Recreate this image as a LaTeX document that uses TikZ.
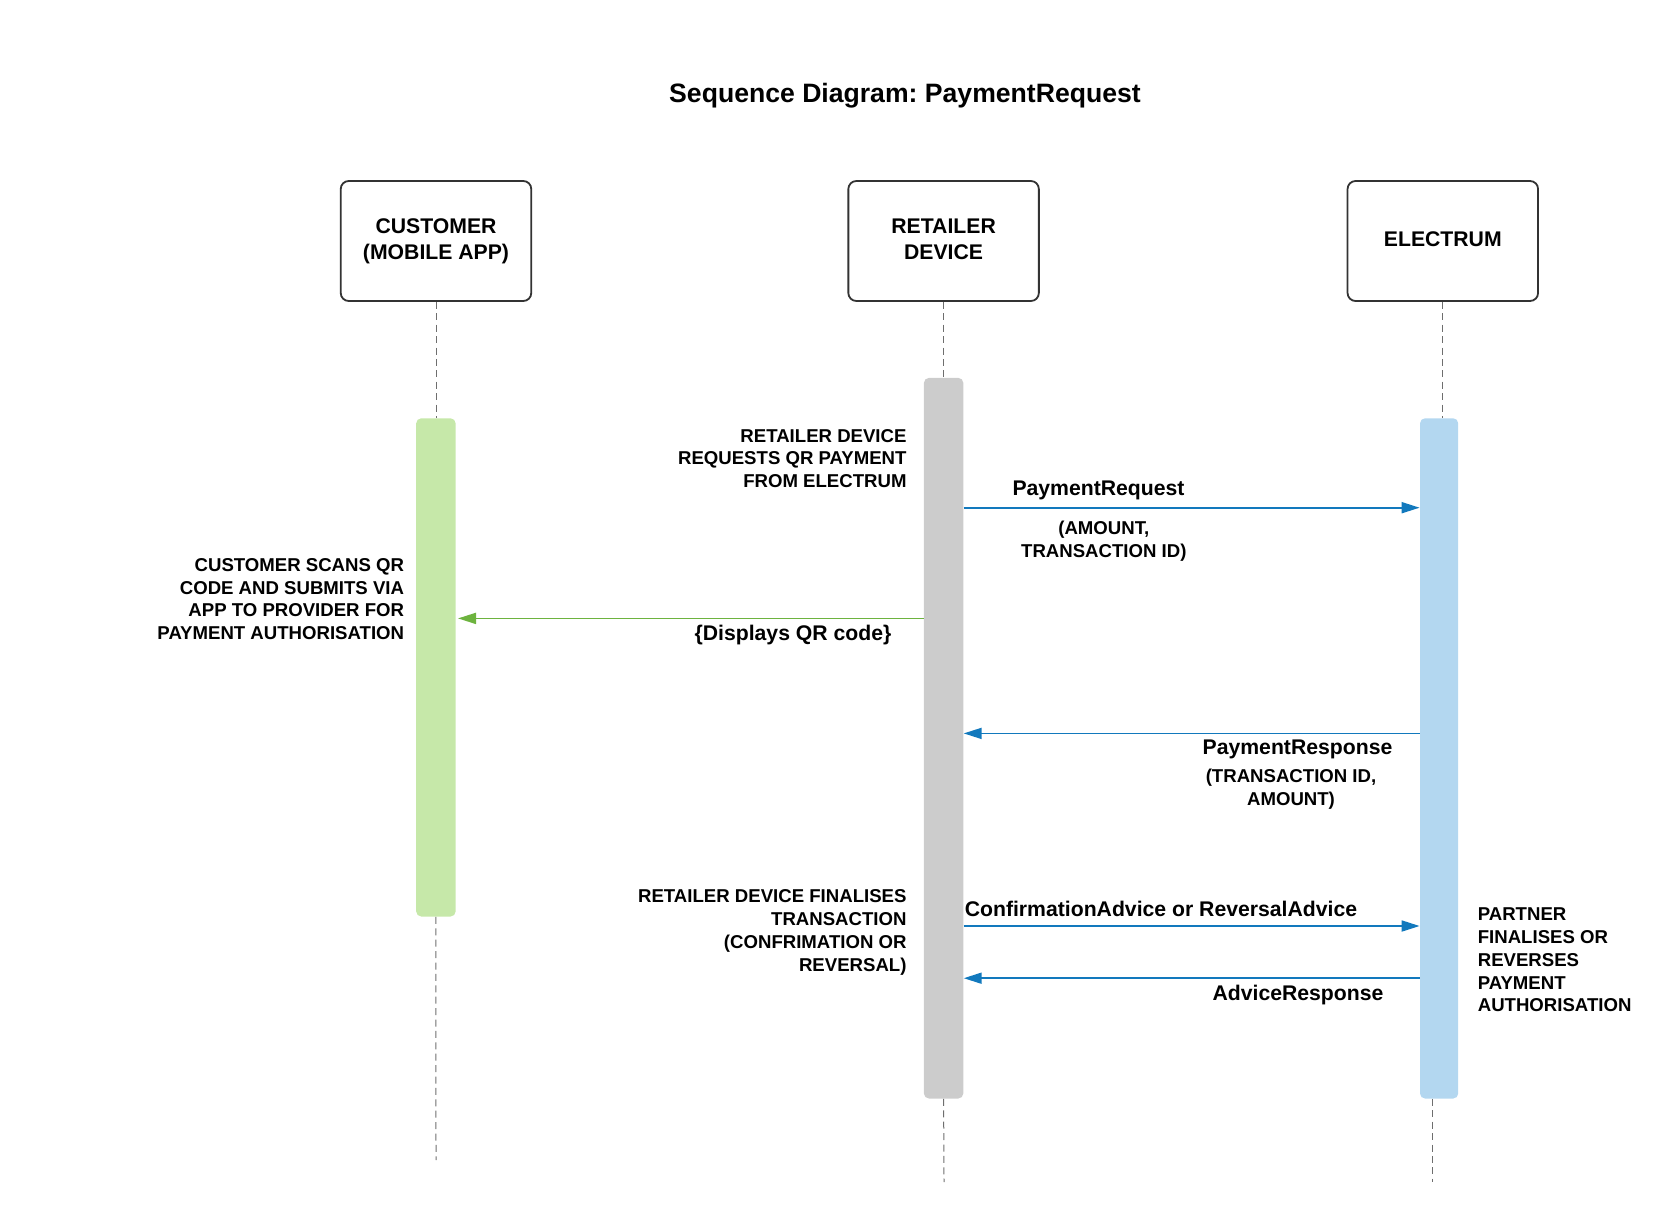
\documentclass[tikz,border=0pt]{standalone}
\usepackage{fontspec}
\setmainfont{Liberation Sans}
\usetikzlibrary{arrows.meta}
\definecolor{boxline}{HTML}{333333}
\definecolor{lifegray}{HTML}{6E6E6E}
\definecolor{barGray}{HTML}{CCCCCC}
\definecolor{barGreen}{HTML}{C6E8A9}
\definecolor{barBlue}{HTML}{B3D7F0}
\definecolor{msgBlue}{HTML}{1279BD}
\definecolor{msgGreen}{HTML}{6DB33F}
\frenchspacing
\begin{document}
\begin{tikzpicture}[x=0.5pt,y=-0.5pt,
    actor/.style={draw=boxline,line width=0.9pt,rounded corners=4pt,fill=white,
      minimum width=95.25pt,minimum height=60pt,align=center,
      font=\bfseries\fontsize{10.6}{12.8}\selectfont},
    actbar/.style={rectangle,rounded corners=2.5pt,inner sep=0pt,minimum width=19.7pt},
    lifeline/.style={draw=lifegray,line width=0.5pt,dash pattern=on 3.5pt off 2.2pt},
    msg/.style={line width=0.9pt,-{Triangle[length=9pt,width=5.5pt]}},
    lbl/.style={inner sep=0pt,font=\bfseries\fontsize{10.6}{12.8}\selectfont},
    note/.style={inner sep=0pt,font=\bfseries\fontsize{9.3}{11.4}\selectfont}]

    \useasboundingbox (0,0) rectangle (1669,1220);

    \node[inner sep=0pt,font=\bfseries\fontsize{13.3}{16}\selectfont] (title) at (905,96)
      {Sequence Diagram: PaymentRequest};

    % participants
    \node[actor] (cust) at (436,241) {CUSTOMER\\(MOBILE APP)};
    \node[actor] (ret) at (943.6,241) {\vphantom{(}RETAILER\\DEVICE\vphantom{(}};
    \node[actor] (elec) at (1442.8,241) {ELECTRUM\vphantom{(}};

    % activation bars
    \node[actbar,fill=barGreen,minimum height=249.1pt] (custbar) at (435.9,667.4) {};
    \node[actbar,fill=barGray,minimum height=360.3pt] (retbar) at (943.6,738.2) {};
    \node[actbar,fill=barBlue,minimum width=19.1pt,minimum height=340.1pt] (elecbar) at (1439.1,758.4) {};

    % lifelines
    \coordinate (custend) at (436,1160);
    \coordinate (retend) at (944,1182);
    \coordinate (elecend) at (1432.5,1182);
    \draw[lifeline] (cust.south) -- (cust.south |- custbar.north);
    \draw[lifeline] (custbar.south) -- (custend);
    \draw[lifeline] (ret.south) -- (ret.south |- retbar.north);
    \draw[lifeline] (retbar.south) -- (retend);
    \draw[lifeline] (elec.south) -- (elec.south |- elecbar.north);
    \draw[lifeline] (elecend |- elecbar.south) -- (elecend);

    % messages
    \coordinate (m1) at (0,507.7);
    \coordinate (m2) at (0,618.4);
    \coordinate (m3) at (0,733.4);
    \coordinate (m4) at (0,926);
    \coordinate (m5) at (0,978.2);

    \draw[msg,msgBlue] (retbar.east |- m1) -- (elecbar.west |- m1);
    \node[lbl] (reqlbl) at (1098.5,490) {PaymentRequest};
    \node[note,align=center] (reqargs) at (1103.8,541) {(AMOUNT,\\TRANSACTION ID)};

    \draw[msg,msgGreen] (retbar.west |- m2) -- ([xshift=1pt]custbar.east |- m2);
    \node[lbl] (qrlbl) at (793,635.5) {\{Displays QR code\}};

    \draw[msg,msgBlue] (elecbar.west |- m3) -- (retbar.east |- m3);
    \node[lbl] (resplbl) at (1297.5,749.5) {PaymentResponse};
    \node[note,align=center] (respargs) at (1291,789) {(TRANSACTION ID,\\AMOUNT)};

    \draw[msg,msgBlue] (retbar.east |- m4) -- (elecbar.west |- m4);
    \node[lbl,anchor=west] (advlbl) at (964.4,908.5) {ConfirmationAdvice or ReversalAdvice};

    \draw[msg,msgBlue] (elecbar.west |- m5) -- (retbar.east |- m5);
    \node[lbl] (advresp) at (1298,995) {AdviceResponse};

    % notes
    \node[note,align=right,anchor=east] (note1) at (906.9,458.5)
      {RETAILER DEVICE\\REQUESTS QR PAYMENT\\FROM ELECTRUM};
    \node[note,align=right,anchor=east] (note2) at (404.5,599)
      {CUSTOMER SCANS QR\\CODE AND SUBMITS VIA\\APP TO PROVIDER FOR\\PAYMENT AUTHORISATION};
    \node[note,align=right,anchor=east] (note3) at (906.9,932.3)
      {RETAILER DEVICE FINALISES\\TRANSACTION\\(CONFRIMATION OR\\REVERSAL)};
    \node[note,align=left,anchor=west] (note4) at (1477.4,960)
      {PARTNER\\FINALISES OR\\REVERSES\\PAYMENT\\AUTHORISATION};
\end{tikzpicture}
\end{document}
